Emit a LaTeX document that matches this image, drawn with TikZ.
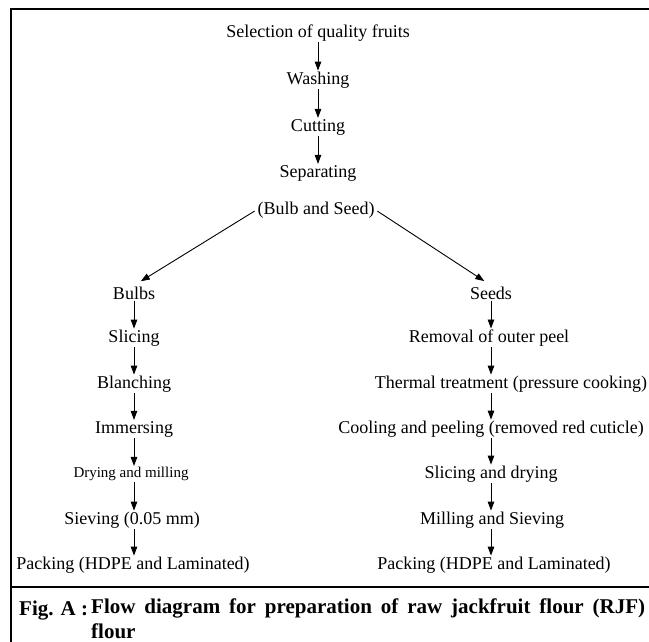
\documentclass[tikz,border=0pt]{standalone}
\usepackage{fontspec}
\setmainfont{Liberation Serif}
\usepackage{tikz}
\usetikzlibrary{positioning,arrows.meta,calc}

\begin{document}
\begin{tikzpicture}[x=1pt,y=-1pt,
  stage/.style={font=\fontsize{18}{20}\selectfont, inner sep=1pt},
  stagesmall/.style={font=\fontsize{15}{17}\selectfont, inner sep=1pt},
  flow/.style={-{Triangle[length=9pt,width=6.5pt]}, line width=0.9pt},
  frameline/.style={line width=2pt},
  capfont/.style={font=\bfseries\fontsize{21}{25}\selectfont, inner sep=0pt}]
\useasboundingbox (0,0) rectangle (649,642);
% frame
\draw[frameline] (649,9) -- (11,9) -- (11,642);
\draw[frameline] (11,587) -- (649,587);
% common steps
\node[stage] (sel)  at (318,33)  {Selection of quality fruits};
\node[stage] (wash) at (318,80)  {Washing};
\node[stage] (cut)  at (318,127) {Cutting};
\node[stage] (sep)  at (318,173) {Separating};
\node[stage] (bas)  at (316,210) {(Bulb and Seed)};
% bulbs
\node[stage]      (bulbs)  at (134,293) {Bulbs};
\node[stage]      (bslice) at (134,338) {Slicing};
\node[stage]      (blanch) at (134,384) {Blanching};
\node[stage]      (immers) at (134,429) {Immersing};
\node[stagesmall] (drymil) at (131,474) {Drying and milling};
\node[stage]      (sieve)  at (132,520) {Sieving (0.05 mm)};
\node[stage]      (packl)  at (133,565) {Packing (HDPE and Laminated)};
% seeds
\node[stage] (seeds)   at (491,293) {Seeds};
\node[stage] (removal) at (489,338) {Removal of outer peel};
\node[stage] (thermal) at (511,384) {Thermal treatment (pressure cooking)};
\node[stage] (cool)    at (491,429) {Cooling and peeling (removed red cuticle)};
\node[stage] (slidry)  at (491,474) {Slicing and drying};
\node[stage] (milsie)  at (492,520) {Milling and Sieving};
\node[stage] (packr)   at (494,565) {Packing (HDPE and Laminated)};
% arrows
\draw[flow] (sel) -- (wash);
\draw[flow] (wash) -- (cut);
\draw[flow] (cut) -- (sep);
\draw[flow, shorten <=2pt, shorten >=8pt] (bas.west) -- (bulbs.north);
\draw[flow, shorten <=2pt, shorten >=8pt] (bas.east) -- (seeds.north);
\foreach \a/\b in {bulbs/bslice,bslice/blanch,blanch/immers,immers/drymil,drymil/sieve,sieve/packl}
  \draw[flow] (\a.south -| bulbs) -- (\b.north -| bulbs);
\foreach \a/\b in {seeds/removal,removal/thermal,thermal/cool,cool/slidry,slidry/milsie,milsie/packr}
  \draw[flow] (\a.south -| seeds) -- (\b.north -| seeds);
% caption
\node[capfont, anchor=base west] (figno) at (19,615) {Fig. A :};
\node[capfont, anchor=north west, text width=554pt, align=justify] (capt) at (91,599)
      {Flow diagram for preparation of raw jackfruit flour (RJF)\linebreak flour};
\end{tikzpicture}
\end{document}
